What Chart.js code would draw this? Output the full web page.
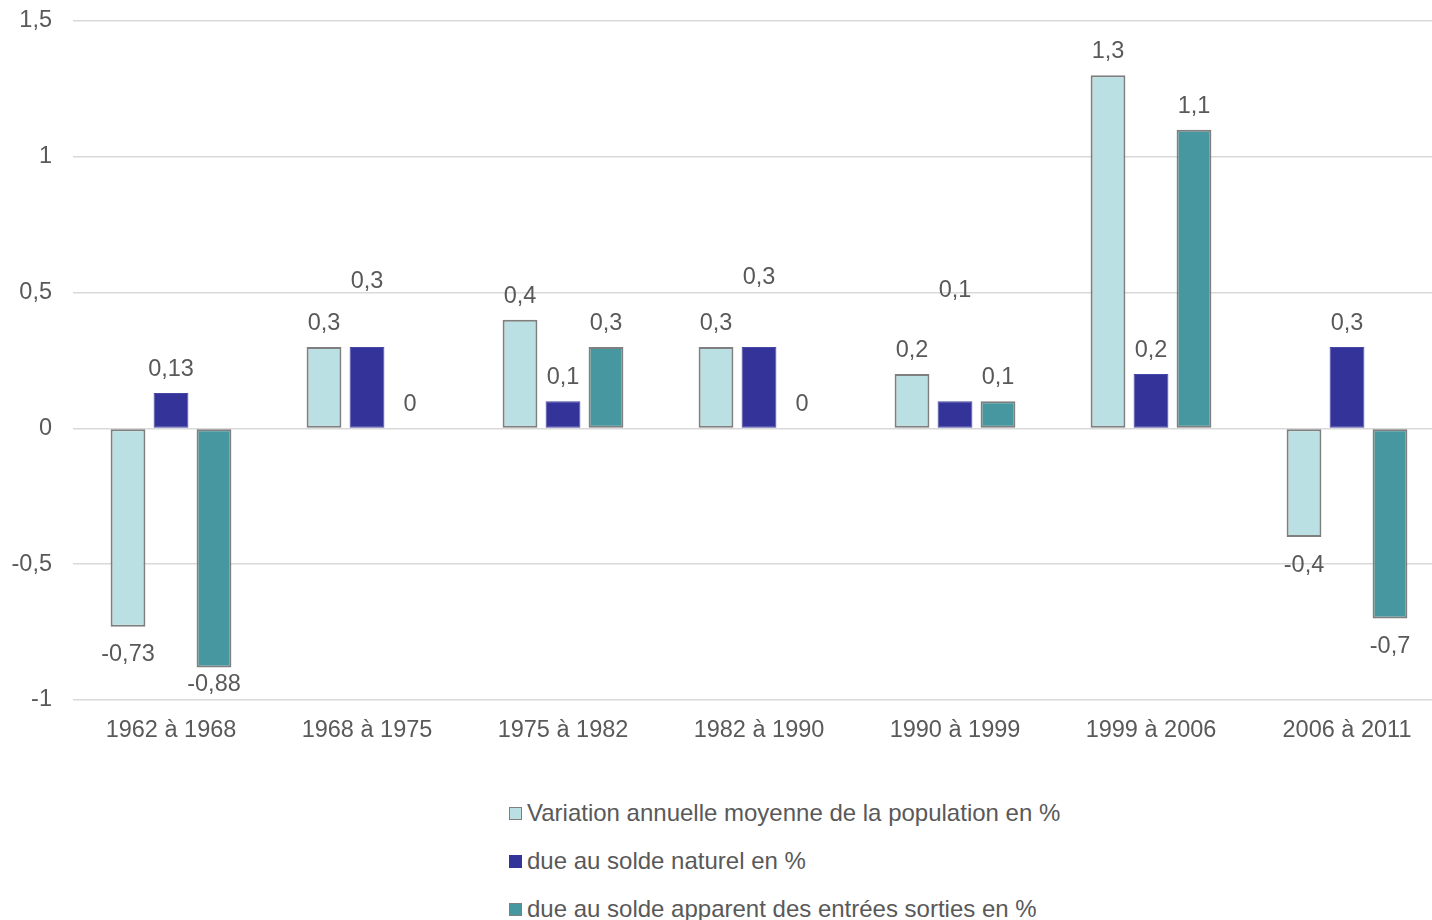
<!DOCTYPE html>
<html>
<head>
<meta charset="utf-8">
<script src="https://cdn.jsdelivr.net/npm/chart.js@4"></script>
<style>
  html, body { margin: 0; padding: 0; background: #fff; overflow: hidden; width: 1432px; height: 920px; }
  #wrap { position: absolute; left: 0; top: 0; width: 1446px; height: 760px; }
  #legend { position: absolute; left: 509px; top: 795px; font-family: "Liberation Sans", Arial, sans-serif; font-size: 24px; color: #595959; }
  .item { height: 48px; line-height: 36px; white-space: nowrap; display: flex; align-items: flex-start; }
  .box { display: inline-block; width: 11px; height: 11px; margin-right: 5px; margin-top: 12px; }
</style>
</head>
<body>
<div id="wrap"><canvas id="c"></canvas></div>
<div id="legend"></div>
<script>
const categories = ["1962 à 1968", "1968 à 1975", "1975 à 1982", "1982 à 1990", "1990 à 1999", "1999 à 2006", "2006 à 2011"];
const seriesNames = ["Variation annuelle moyenne de la population en %", "due au solde naturel en %", "due au solde apparent des entrées sorties en %"];
const variationTotale = [-0.73, 0.3, 0.4, 0.3, 0.2, 1.3, -0.4];
const soldeNaturel = [0.13, 0.3, 0.1, 0.3, 0.1, 0.2, 0.3];
const soldeMigratoire = [-0.88, 0, 0.3, 0, 0.1, 1.1, -0.7];
const yTicks = [-1, -0.5, 0, 0.5, 1, 1.5];

// label placement nudges (pixels, negative = up), per series per category
const labelNudge = [
  [0, 0, 0, 0, 0, 0, 0],
  [0, -42, 0, -46, -87, 0, 0],
  [-11, 0, 0, 0, 0, 0, 0]
];

const FONT = '"Liberation Sans", Arial, sans-serif';
const TXT = '#595959';
const fillColors = ['#BBE0E3', '#333399', '#46979F'];
const borderColors = ['#7F7F7F', '#4747A8', '#7F7F7F'];
const borderWidths = [2, 1, 2];

const fmt = v => String(v).replace('.', ',');

const labelPlugin = {
  id: 'barLabels',
  afterDatasetsDraw(chart) {
    const ctx = chart.ctx;
    ctx.save();
    ctx.font = '23.5px ' + FONT;
    ctx.fillStyle = TXT;
    ctx.textAlign = 'center';
    ctx.textBaseline = 'middle';
    chart.data.datasets.forEach((ds, di) => {
      const meta = chart.getDatasetMeta(di);
      meta.data.forEach((el, i) => {
        const v = ds.data[i];
        let y = v >= 0 ? el.y - 23.5 : el.y + 28;
        y += labelNudge[di][i];
        ctx.fillText(fmt(v), el.x, y);
      });
    });
    ctx.restore();
  }
};

const datasets = [variationTotale, soldeNaturel, soldeMigratoire].map((d, i) => ({
  label: seriesNames[i],
  data: d,
  backgroundColor: fillColors[i],
  borderColor: borderColors[i],
  borderWidth: borderWidths[i],
  borderSkipped: false,
  categoryPercentage: 0.658,
  barPercentage: 0.81
}));

new Chart(document.getElementById('c'), {
  type: 'bar',
  data: { labels: categories, datasets },
  options: {
    responsive: true,
    maintainAspectRatio: false,
    animation: false,
    layout: { padding: { top: 21, right: 1, left: 0, bottom: 0 } },
    plugins: { legend: { display: false }, tooltip: { enabled: false }, title: { display: false } },
    scales: {
      x: {
        grid: { display: false, drawTicks: false },
        border: { display: false },
        ticks: { color: TXT, font: { family: FONT, size: 23.5 }, padding: 16, maxRotation: 0 },
        afterFit(s) { s.height = 60; s.paddingLeft = 0; s.paddingRight = 0; }
      },
      y: {
        min: -1, max: 1.5,
        afterBuildTicks(s) { s.ticks = yTicks.map(v => ({ value: v })); },
        grid: { color: '#D9D9D9', lineWidth: 1.5, drawTicks: false },
        border: { display: false },
        ticks: { color: TXT, font: { family: FONT, size: 23.5 }, padding: 21, callback: v => fmt(v) },
        afterFit(s) { s.width = 73; s.paddingTop = 0; s.paddingBottom = 0; }
      }
    }
  },
  plugins: [labelPlugin]
});

const lg = document.getElementById('legend');
seriesNames.forEach((n, i) => {
  const row = document.createElement('div');
  row.className = 'item';
  const b = document.createElement('span');
  b.className = 'box';
  b.style.background = fillColors[i];
  b.style.border = (i === 1 ? 1 : 1.5) + 'px solid ' + (i === 1 ? fillColors[1] : borderColors[i]);
  const t = document.createElement('span');
  t.textContent = n;
  row.appendChild(b); row.appendChild(t);
  lg.appendChild(row);
});
</script>
</body>
</html>
